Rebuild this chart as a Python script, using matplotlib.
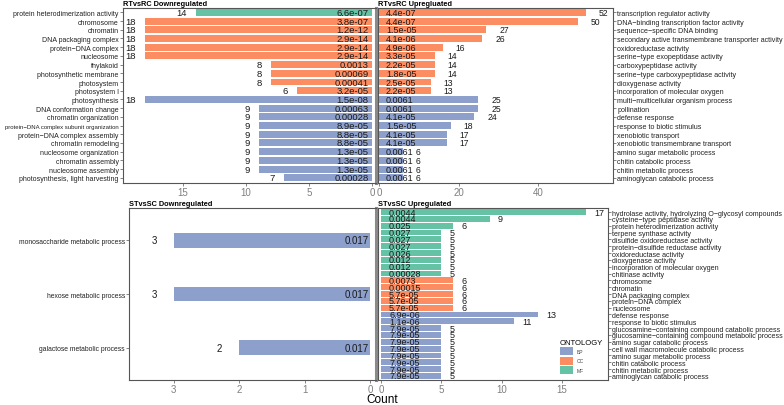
import matplotlib.pyplot as plt
from matplotlib.patches import Patch

plt.rcParams['font.family'] = ['Liberation Sans', 'DejaVu Sans']

W, H = 784, 406

ont_colors = {'BP': '#8DA0CB', 'CC': '#FC8D62', 'MF': '#66C2A5'}

# RTvsRC downregulated
rt_down_terms = ['protein heterodimerization activity', 'chromosome', 'chromatin',
                 'DNA packaging complex', 'protein\u2212DNA complex', 'nucleosome',
                 'thylakoid', 'photosynthetic membrane', 'photosystem', 'photosystem I',
                 'photosynthesis', 'DNA conformation change', 'chromatin organization',
                 'protein\u2212DNA complex subunit organization', 'protein\u2212DNA complex assembly',
                 'chromatin remodeling', 'nucleosome organization', 'chromatin assembly',
                 'nucleosome assembly', 'photosynthesis, light harvesting']
rt_down_count = [14, 18, 18, 18, 18, 18, 8, 8, 8, 6, 18, 9, 9, 9, 9, 9, 9, 9, 9, 7]
rt_down_p = ['6.6e-07', '3.8e-07', '1.2e-12', '2.9e-14', '2.9e-14', '2.9e-14', '0.0013',
             '0.00069', '0.00041', '3.2e-05', '1.5e-08', '0.00063', '0.00028', '8.9e-05',
             '8.8e-05', '8.8e-05', '1.3e-05', '1.3e-05', '1.3e-05', '0.00028']
rt_down_ont = ['MF'] + ['CC'] * 9 + ['BP'] * 10

# RTvsRC upregulated
rt_up_terms = ['transcription regulator activity', 'DNA\u2212binding transcription factor activity',
               'sequence\u2212specific DNA binding',
               'secondary active transmembrane transporter activity', 'oxidoreductase activity',
               'serine\u2212type exopeptidase activity', 'carboxypeptidase activity',
               'serine\u2212type carboxypeptidase activity', 'dioxygenase activity',
               'incorporation of molecular oxygen', 'multi\u2212multicellular organism process',
               'pollination', 'defense response', 'response to biotic stimulus',
               'xenobiotic transport', 'xenobiotic transmembrane transport',
               'amino sugar metabolic process', 'chitin catabolic process',
               'chitin metabolic process', 'aminoglycan catabolic process']
rt_up_count = [52, 50, 27, 26, 16, 14, 14, 14, 13, 13, 25, 25, 24, 18, 17, 17, 6, 6, 6, 6]
rt_up_p = ['4.4e-07', '4.4e-07', '1.5e-05', '4.1e-06', '4.9e-06', '3.3e-05', '2.2e-05',
           '1.8e-05', '2.5e-05', '2.2e-05', '0.0061', '0.0061', '4.1e-05', '1.5e-05',
           '4.1e-05', '4.1e-05', '0.0061', '0.0061', '0.0061', '0.0061']
rt_up_ont = ['CC'] * 10 + ['BP'] * 10

# STvsSC downregulated
st_down_terms = ['monosaccharide metabolic process', 'hexose metabolic process',
                 'galactose metabolic process']
st_down_count = [3, 3, 2]
st_down_p = ['0.017', '0.017', '0.017']
st_down_ont = ['BP', 'BP', 'BP']

# STvsSC upregulated
st_up_terms = ['hydrolase activity, hydrolyzing O\u2212glycosyl compounds',
               'cysteine\u2212type peptidase activity', 'protein heterodimerization activity',
               'terpene synthase activity', 'disulfide oxidoreductase activity',
               'protein\u2212disulfide reductase activity', 'oxidoreductase activity',
               'dioxygenase activity', 'incorporation of molecular oxygen', 'chitinase activity',
               'chromosome', 'chromatin', 'DNA packaging complex', 'protein\u2212DNA complex',
               'nucleosome', 'defense response', 'response to biotic stimulus',
               'glucosamine\u2212containing compound catabolic process',
               'glucosamine\u2212containing compound metabolic process',
               'amino sugar catabolic process', 'cell wall macromolecule catabolic process',
               'amino sugar metabolic process', 'chitin catabolic process',
               'chitin metabolic process', 'aminoglycan catabolic process']
st_up_count = [17, 9, 6, 5, 5, 5, 5, 5, 5, 5, 6, 6, 6, 6, 6, 13, 11, 5, 5, 5, 5, 5, 5, 5, 5]
st_up_p = ['0.0044', '0.0044', '0.025', '0.027', '0.027', '0.027', '0.026', '0.012', '0.012',
           '0.00028', '0.0073', '0.00015', '5.7e-05', '5.7e-05', '5.7e-05', '6.9e-06',
           '1.1e-06', '7.9e-05', '7.9e-05', '7.9e-05', '7.9e-05', '7.9e-05', '7.9e-05',
           '7.9e-05', '7.9e-05']
st_up_ont = ['MF'] * 10 + ['CC'] * 5 + ['BP'] * 10

fig = plt.figure(figsize=(W / 100, H / 100), dpi=100)


def px_axes(x0, y0, x1, y1):
    return fig.add_axes([x0 / W, 1 - y1 / H, (x1 - x0) / W, (y1 - y0) / H])


def panel(ax, terms, counts, pvals, onts, side, xlim, ylim, xticks, height,
          fs_lab, fs_count, fs_p, c_off, p_off):
    y = list(range(len(terms)))
    ax.barh(y, counts, height=height, color=[ont_colors[o] for o in onts])
    ax.set_xlim(xlim)
    ax.set_ylim(ylim)
    ax.set_xticks(xticks)
    ax.set_yticks(y)
    ax.set_yticklabels(terms, fontsize=fs_lab, color='#222222')
    sgn = -1 if side == 'left' else 1
    ha = 'right' if side == 'left' else 'left'
    for i, (c, p) in enumerate(zip(counts, pvals)):
        ax.annotate(str(c), (c, i), xytext=(sgn * c_off, 0), textcoords='offset points',
                    ha=ha, va='center', fontsize=fs_count, color='#1a1a1a')
        ax.annotate(p, (0, i), xytext=(sgn * p_off, 0), textcoords='offset points',
                    ha=ha, va='center', fontsize=fs_p, color='#1a1a1a')
    if side == 'right':
        ax.yaxis.tick_right()
    ax.tick_params(axis='y', length=2, width=0.5, color='#555555', pad=1)
    ax.tick_params(axis='x', length=2, width=0.5, color='#555555', pad=0.8,
                   labelsize=7, labelcolor='#7f7f7f')
    for s in ax.spines.values():
        s.set_color('#555555')
        s.set_linewidth(0.8)
    if side == 'left':
        ax.spines['right'].set_color('#8a8a8a')
        ax.spines['right'].set_linewidth(2.2)


ax1 = px_axes(123, 9, 376, 184)
panel(ax1, rt_down_terms, rt_down_count, rt_down_p, rt_down_ont, 'left',
      (19.76, -0.3), (19.6, -0.5), [0, 5, 10, 15], 0.8, 5.0, 6.8, 6.8, 6.5, 2.5)
ax1.get_yticklabels()[13].set_fontsize(4.3)

ax2 = px_axes(378, 9, 613, 184)
panel(ax2, rt_up_terms, rt_up_count, rt_up_p, rt_up_ont, 'right',
      (-0.3, 58.9), (19.6, -0.5), [0, 20, 40], 0.8, 5.1, 6.2, 6.5, 9.4, 4.8)

ax3 = px_axes(129, 209, 376, 381)
panel(ax3, st_down_terms, st_down_count, st_down_p, st_down_ont, 'left',
      (3.68, -0.09), (2.6, -0.6), [0, 1, 2, 3], 0.27, 4.9, 7, 7, 12, 1.2)

ax4 = px_axes(378, 209, 608, 381)
panel(ax4, st_up_terms, st_up_count, st_up_p, st_up_ont, 'right',
      (-0.25, 18.8), (24.6, -0.6), [0, 5, 10, 15], 0.85, 5.1, 6.5, 6.5, 5.8, 5.8)

# panel titles
fig.text(123 / W, 1 - 4 / H, 'RTvsRC Downregulated', fontsize=5.3, weight='bold', va='center')
fig.text(378 / W, 1 - 4 / H, 'RTvsRC Upregluated', fontsize=5.3, weight='bold', va='center')
fig.text(129 / W, 1 - 205 / H, 'STvsSC Downregulated', fontsize=5.3, weight='bold', va='center')
fig.text(378 / W, 1 - 205 / H, 'STvsSC Upregulated', fontsize=5.3, weight='bold', va='center')

fig.text(382 / W, 1 - 400 / H, 'Count', fontsize=8.5, ha='center', va='center')

handles = [Patch(facecolor=ont_colors[k], label=k) for k in ['BP', 'CC', 'MF']]
leg = fig.legend(handles=handles, title='ONTOLOGY', loc='lower left',
                 bbox_to_anchor=(556 / W, 1 - 379 / H), frameon=False,
                 fontsize=3.6, title_fontsize=5.5, handlelength=2.6, handleheight=2.1,
                 labelspacing=0.25, handletextpad=0.8, borderpad=0.3)
leg._legend_box.align = 'left'
for t in leg.get_texts():
    t.set_color('#444444')

fig.savefig('out.png', dpi=100)
